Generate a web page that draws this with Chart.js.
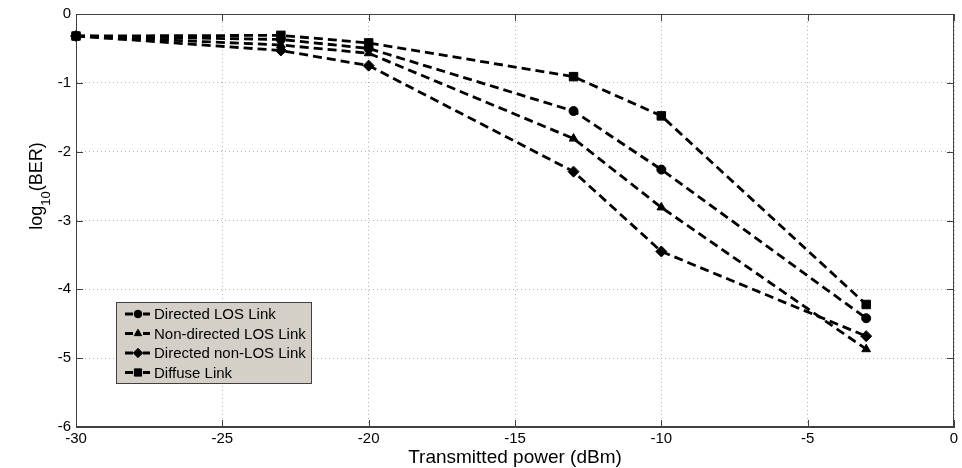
<!DOCTYPE html>
<html>
<head>
<meta charset="utf-8">
<script src="https://cdn.jsdelivr.net/npm/chart.js@4.4.0/dist/chart.umd.min.js"></script>
<style>
  html, body { margin: 0; padding: 0; background: #fff; }
  #wrap { width: 962px; height: 468px; position: relative; }
</style>
</head>
<body>
<div id="wrap"><canvas id="berChart"></canvas></div>
<script>
/* BER vs transmitted power for four link types */

var powerDbm       = [-30, -23, -20, -13, -10, -3];
var directedLos    = [-0.32, -0.37, -0.50, -1.41, -2.26, -4.42];
var nonDirectedLos = [-0.32, -0.45, -0.57, -1.81, -2.81, -4.87];
var directedNonLos = [-0.32, -0.53, -0.75, -2.29, -3.45, -4.68];
var diffuseLink    = [-0.32, -0.31, -0.42, -0.91, -1.48, -4.22];

var seriesNames  = ['Directed LOS Link', 'Non-directed LOS Link', 'Directed non-LOS Link', 'Diffuse Link'];
var seriesValues = [directedLos, nonDirectedLos, directedNonLos, diffuseLink];
var seriesMarks  = ['circle', 'triangle', 'rectRot', 'rect'];
var markRadius   = [4.5, 5, 5.5, 6];

var xTitle = 'Transmitted power (dBm)';
var FONT = 'Liberation Sans, Arial, sans-serif';

function toPoints(vals) {
  return vals.map(function(v, i) { return { x: powerDbm[i], y: v }; });
}

var datasets = seriesValues.map(function(vals, k) {
  return {
    label: seriesNames[k],
    data: toPoints(vals),
    showLine: true,
    borderColor: '#000',
    backgroundColor: '#000',
    borderWidth: 2.8,
    borderDash: [9, 5],
    pointStyle: seriesMarks[k],
    pointRadius: markRadius[k],
    pointBackgroundColor: '#000',
    pointBorderColor: '#000',
    pointBorderWidth: 1,
    clip: false,
    fill: false
  };
});

/* box, inward ticks, axis titles, legend */
var decorPlugin = {
  id: 'decor',
  beforeDatasetsDraw: function(chart) {
    var ctx = chart.ctx, a = chart.chartArea;
    var xs = chart.scales.x, ys = chart.scales.y;
    ctx.save();
    ctx.strokeStyle = '#404040';
    ctx.lineWidth = 1;
    ctx.strokeRect(a.left + 0.5, a.top + 0.5, a.right - a.left - 1, a.bottom - a.top - 1);
    ctx.beginPath();
    xs.ticks.forEach(function(t) {
      var px = Math.round(xs.getPixelForValue(t.value)) + 0.5;
      ctx.moveTo(px, a.bottom); ctx.lineTo(px, a.bottom - 7);
      ctx.moveTo(px, a.top); ctx.lineTo(px, a.top + 7);
    });
    ys.ticks.forEach(function(t) {
      var py = Math.round(ys.getPixelForValue(t.value)) + 0.5;
      ctx.moveTo(a.left, py); ctx.lineTo(a.left + 7, py);
      ctx.moveTo(a.right, py); ctx.lineTo(a.right - 7, py);
    });
    ctx.stroke();
    ctx.restore();
  },
  afterDraw: function(chart) {
    var ctx = chart.ctx, a = chart.chartArea;
    ctx.save();
    ctx.fillStyle = '#000';

    // x title
    ctx.font = '19px ' + FONT;
    ctx.textAlign = 'center';
    ctx.textBaseline = 'alphabetic';
    ctx.fillText(xTitle, (a.left + a.right) / 2, 463);

    // y title with subscript
    var bigF = '18px ' + FONT, subF = '13px ' + FONT;
    ctx.font = bigF;  var w1 = ctx.measureText('log').width;
    ctx.font = subF;  var w2 = ctx.measureText('10').width;
    ctx.font = bigF;  var w3 = ctx.measureText('(BER)').width;
    var total = w1 + w2 + w3;
    ctx.translate(42, 186);
    ctx.rotate(-Math.PI / 2);
    ctx.textAlign = 'left';
    var sx = -total / 2;
    ctx.font = bigF; ctx.fillText('log', sx, 0);
    ctx.font = subF; ctx.fillText('10', sx + w1, 8);
    ctx.font = bigF; ctx.fillText('(BER)', sx + w1 + w2, 0);
    ctx.setTransform(1, 0, 0, 1, 0, 0);

    // legend
    var bx = 116, by = 302, bw = 196, bh = 82;
    ctx.fillStyle = '#d4d0c8';
    ctx.fillRect(bx, by, bw, bh);
    ctx.strokeStyle = '#404040';
    ctx.lineWidth = 1;
    ctx.strokeRect(bx + 0.5, by + 0.5, bw - 1, bh - 1);
    ctx.font = '15px ' + FONT;
    ctx.textBaseline = 'middle';
    chart.data.datasets.forEach(function(ds, k) {
      var ry = 314 + k * 19.5;
      ctx.strokeStyle = '#000';
      ctx.lineWidth = 2.8;
      ctx.beginPath();
      ctx.moveTo(125, ry); ctx.lineTo(133, ry);
      ctx.moveTo(143, ry); ctx.lineTo(150, ry);
      ctx.stroke();
      ctx.fillStyle = '#000';
      ctx.lineWidth = 1;
      Chart.helpers.drawPoint(ctx, { pointStyle: ds.pointStyle, radius: ds.pointRadius * 0.85, rotation: 0, borderWidth: 1 }, 138, ry);
      ctx.fillStyle = '#000';
      ctx.fillText(ds.label, 154, ry + 1);
    });
    ctx.restore();
  }
};

new Chart(document.getElementById('berChart'), {
  type: 'scatter',
  data: { datasets: datasets },
  options: {
    responsive: true, maintainAspectRatio: false, animation: false,
    layout: { padding: { top: 14, right: 8, left: 0, bottom: 0 } },
    plugins: { legend: { display: false }, tooltip: { enabled: false } },
    scales: {
      x: {
        type: 'linear', min: -30, max: 0,
        grid: { color: '#b4b4b4', lineWidth: 1, drawTicks: false },
        border: { color: '#404040', dash: [1, 3] },
        ticks: { stepSize: 5, color: '#000', padding: 3, font: { family: FONT, size: 15 }, maxRotation: 0 },
        afterFit: function(s) { s.height = 41; s.paddingLeft = 0; s.paddingRight = 0; }
      },
      y: {
        type: 'linear', min: -6, max: 0,
        grid: { color: '#b4b4b4', lineWidth: 1, drawTicks: false },
        border: { color: '#404040', dash: [1, 3] },
        ticks: { stepSize: 1, color: '#000', padding: 5, font: { family: FONT, size: 15 } },
        afterFit: function(s) { s.width = 76; s.paddingTop = 0; s.paddingBottom = 0; }
      }
    }
  },
  plugins: [decorPlugin]
});
</script>
</body>
</html>
